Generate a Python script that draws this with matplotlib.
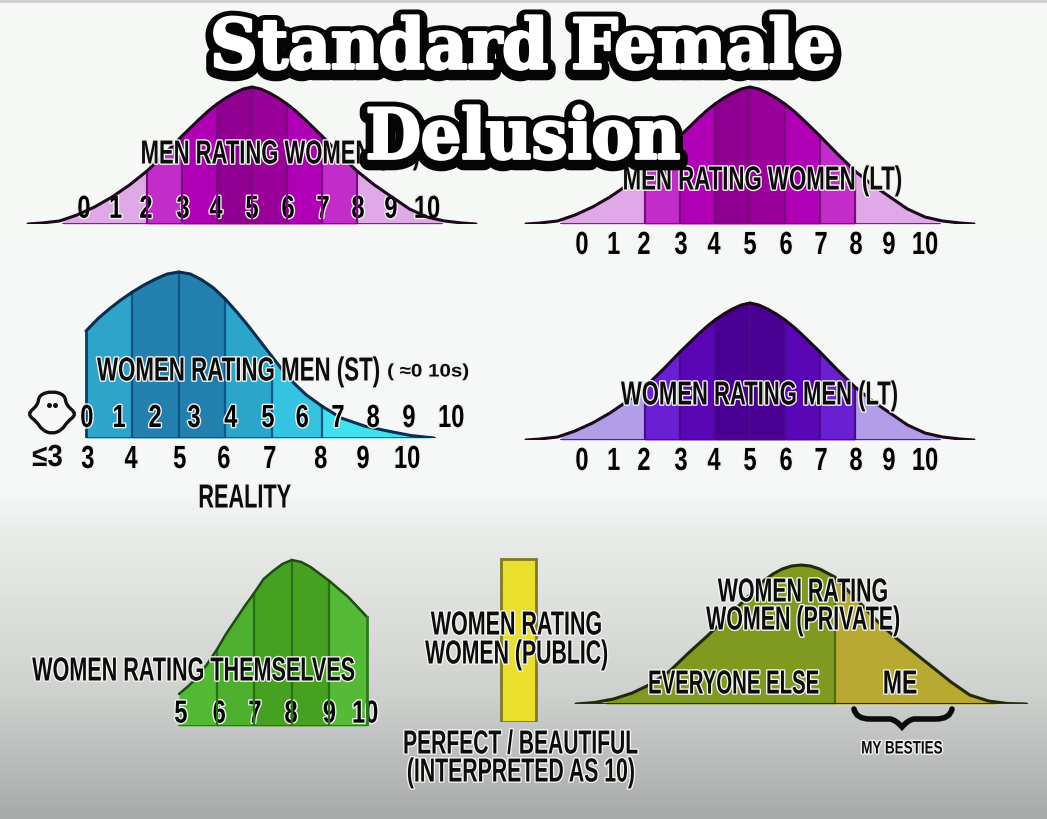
import numpy as np
import matplotlib
matplotlib.use("Agg")
import matplotlib.pyplot as plt
import matplotlib.patheffects as pe
from matplotlib.patches import PathPatch
from matplotlib.path import Path
from matplotlib.transforms import Affine2D
from matplotlib.colors import LinearSegmentedColormap

W, H = 1047, 820
FONT = ["Liberation Sans", "DejaVu Sans"]
plt.rcParams["font.family"] = FONT
plt.rcParams["font.weight"] = "bold"

# shared bell curve
bell_x = [-1.4, -1, -0.5, 0, 0.5, 1, 1.5, 2, 2.5, 3, 3.5, 3.75, 4, 4.25, 4.5, 4.75, 5, 5.25, 5.5, 5.75, 6, 6.25, 6.5, 7, 7.5, 8, 8.5, 9, 9.5, 10, 10.5, 11, 11.4]
bell_y = [0, 1, 3, 9, 17, 27, 39, 53, 70, 88, 105, 113, 120, 126, 131, 135, 137, 135, 131, 126, 120, 113, 105, 88, 70, 53, 39, 27, 15, 7, 3, 1, 0]
bell_edges = [-0.4, 2, 3, 4, 5, 6, 7, 8, 10.4]
bell_labels = ["0", "1", "2", "3", "4", "5", "6", "7", "8", "9", "10"]
bell_label_x = [0.2, 1.1, 1.97, 3.03, 3.97, 5, 6.03, 7.03, 8.03, 8.97, 10]
magenta = ["#dfa8e6", "#c22cc8", "#b000b6", "#8f0090", "#9a009a", "#b000b6", "#c22cc8", "#dfa8e6"]
violet = ["#b29de8", "#6a20d2", "#5a06b6", "#4a0092", "#4a0092", "#5a06b6", "#6a20d2", "#b29de8"]

# women rating men (ST)
st_x = [3, 3.25, 3.5, 3.75, 4, 4.25, 4.5, 4.75, 5, 5.25, 5.5, 5.75, 6, 6.25, 6.5, 6.75, 7, 7.25, 7.5, 7.75, 8.08, 8.5, 9, 9.5, 10, 10.5]
st_y = [107, 119, 129, 138, 146, 153, 159, 164, 166, 164, 158, 150, 139, 126, 112, 97, 82, 67, 54, 43, 32, 20, 12, 7, 2.5, 0]
st_edges = [3, 4, 5, 6, 7, 8.08, 10.5]
st_colors = ["#2ea4ca", "#2480ae", "#2380ae", "#2ca5cb", "#34c3e0", "#40e0ee"]
reality_x = [3.04, 3.97, 5.02, 5.97, 6.96, 8.06, 8.97, 9.92]
reality_labels = ["3", "4", "5", "6", "7", "8", "9", "10"]
perceived_x = [3.02, 3.71, 4.49, 5.33, 6.12, 6.92, 7.66, 8.43, 9.19, 9.96, 10.87]

# women rating themselves
self_x = [5, 5.25, 5.5, 5.75, 6, 6.25, 6.5, 6.75, 7, 7.25, 7.5, 7.75, 8, 8.25, 8.5, 8.75, 9, 9.25, 9.5, 9.75, 10]
self_y = [32, 40, 49, 62, 76, 92, 106, 120, 133, 147, 155, 162, 166, 164, 159, 152, 145, 137, 129, 119, 109]
self_edges = [5, 6, 7, 8, 9, 10]
self_colors = ["#52b934", "#4cb02e", "#46a120", "#46a120", "#55ba36"]
self_labels = ["5", "6", "7", "8", "9", "10"]
self_label_x = [5.05, 6.07, 7.02, 7.98, 9.0, 9.95]

# women rating women (public)
public_rating = [10]
public_height = [1]

# women rating women (private)
priv_x = [-6, -5.5, -5, -4.5, -4, -3.5, -3, -2.5, -2, -1.5, -1, -0.75, -0.5, -0.25, 0, 0.25, 0.5, 0.9, 1.5, 2, 2.5, 3, 3.5, 4, 4.5, 5, 5.5, 6]
priv_y = [0, 1.5, 5, 11, 20, 33, 51, 68, 86, 104, 123, 130, 135, 138, 139, 138, 135, 127, 104, 84, 67, 52, 37, 22, 9, 3, 0.5, 0]
priv_edges = [-5.2, 0.9, 5.2]
priv_colors = ["#7f9a1e", "#b8a932"]


class Squeeze(pe.AbstractPathEffect):
    # narrow the glyphs about their centre, no condensed font is installed
    def __init__(self, sx=None, width=None, halo=2.0, halo_color="#f0f2ee", offset=(0, 0), thick=0):
        super().__init__()
        self.sx, self.width, self.halo = sx, width, halo
        self.halo_color, self.off, self.thick = halo_color, offset, thick

    def draw_path(self, renderer, gc, tpath, affine, rgbFace=None):
        box = tpath.get_extents(affine)
        sx = self.sx if self.sx else self.width / box.width
        cx = (box.x0 + box.x1) / 2
        aff = affine + Affine2D().translate(-cx, 0).scale(sx, 1).translate(cx, 0)
        pe.Stroke(linewidth=self.halo, foreground=self.halo_color, offset=self.off).draw_path(renderer, gc, tpath, aff, rgbFace)
        if self.thick:
            pe.Stroke(linewidth=self.thick, foreground=rgbFace).draw_path(renderer, gc, tpath, aff, rgbFace)
        renderer.draw_path(gc, tpath, aff, rgbFace)


digits = [Squeeze(sx=0.74)]


def panel(left, right, top, bottom, x0, px0, step, per_y):
    # axes box in pixels, data scale chosen so rating x0 lands on pixel px0
    ax = fig.add_axes([left / W, 1 - bottom / H, (right - left) / W, (bottom - top) / H])
    ax.set_xlim(x0 + (left - px0) / step, x0 + (right - px0) / step)
    ax.set_ylim(0, (bottom - top) / per_y)
    ax.patch.set_alpha(0)
    for s in ax.spines.values():
        s.set_visible(False)
    ax.set_yticks([])
    ax.tick_params(axis="x", length=0, labelsize=23)
    return ax


def curve(ax, x, y, edges, colors, sep, line="#1c0a1c", lw=2.2):
    x = np.array(x, dtype=float)
    y = np.array(y, dtype=float)
    for i in range(len(colors)):
        m = (x >= edges[i] - 1e-9) & (x <= edges[i + 1] + 1e-9)
        xs = np.interp(edges[i:i + 2], x, y)
        bx = np.r_[edges[i], x[m], edges[i + 1]]
        by = np.r_[xs[0], y[m], xs[1]]
        ax.fill_between(bx, 0, by, color=colors[i], lw=0, zorder=1)
    for e in edges[1:-1]:
        ax.plot([e, e], [0, np.interp(e, x, y)], color=sep, lw=1.6, zorder=2)
    ax.plot(x, y, color=line, lw=lw, zorder=3, solid_capstyle="round")
    ax.plot([edges[0], edges[-1]], [0, 0], color=sep, lw=2, zorder=2)


def ticks(ax, pos, labels, pad):
    ax.set_xticks(pos, labels)
    ax.tick_params(axis="x", pad=pad)
    for t in ax.get_xticklabels():
        t.set_path_effects(digits)
        t.set_zorder(6)


fig = plt.figure(figsize=(W / 100, H / 100), dpi=100)

# background fade
bg = fig.add_axes([0, 0, 1, 1], zorder=-5)
cmap = LinearSegmentedColormap.from_list("fade", [(0, "#cfd0cf"), (0.004, "#f7f9f7"), (0.60, "#f5f8f6"), (0.66, "#e9ebe9"),
                                                  (0.85, "#cfd1cf"), (1, "#a9abaa")])
bg.imshow(np.linspace(0, 1, 820)[:, None], cmap=cmap, aspect="auto", vmin=0, vmax=1)
bg.axis("off")

# men rating women (ST)
ax1 = panel(20, 485, 80, 225, 5, 252, 35, 1)
curve(ax1, bell_x, bell_y, bell_edges, magenta, "#7c0a80")
ticks(ax1, bell_label_x, bell_labels, -21)

# men rating women (LT)
ax2 = panel(518, 983, 80, 225, 5, 750, 35, 1)
curve(ax2, bell_x, bell_y, bell_edges, magenta, "#7c0a80")
ticks(ax2, bell_label_x, bell_labels, 5)

# women rating men (ST)
ax3 = panel(70, 470, 265, 439, 3, 86, 46.4, 1)
curve(ax3, st_x, st_y, st_edges, st_colors, "#0e5486", line="#0b2c4c")
ax3.plot([3, 3], [0, st_y[0]], color="#0b3c66", lw=2, zorder=3)
ticks(ax3, reality_x, reality_labels, 5)
for px, lab in zip(perceived_x, bell_labels):
    ax3.text(px, 19, lab, ha="center", va="center", fontsize=23, zorder=6, path_effects=digits)

# women rating men (LT)
ax4 = panel(518, 983, 295, 441, 5, 750, 35, 1)
curve(ax4, bell_x, bell_y, bell_edges, violet, "#4a0a90")
ticks(ax4, bell_label_x, bell_labels, 5)

# women rating themselves
ax5 = panel(170, 385, 552, 727, 5, 179, 37.6, 1)
curve(ax5, self_x, self_y, self_edges, self_colors, "#26701a", line="#1e4a14", lw=1.8)
ax5.plot([10, 10], [0, self_y[-1]], color="#2c7a1e", lw=2, zorder=3)
ticks(ax5, self_label_x, self_labels, -19)

# women rating women (public)
ax6 = panel(495, 542, 555, 723, 10, 518.5, 35, 163)
ax6.bar(public_rating, public_height, width=1, color="#ebdf2e", edgecolor="#7d7a22", lw=2)
ax6.set_xticks([])

# women rating women (private)
ax7 = panel(570, 1030, 560, 705, 0, 801, 37.5, 1)
curve(ax7, priv_x, priv_y, priv_edges, priv_colors, "#4f6b14", line="#22280c")
ax7.plot([-6, 6], [0, 0], color="#2c3010", lw=2.2, zorder=3)
ax7.set_xticks([])

# overlay in pixel coordinates for the captions
ov = fig.add_axes([0, 0, 1, 1], zorder=10)
ov.set_xlim(0, W)
ov.set_ylim(H, 0)
ov.axis("off")


def cap(x0, x1, y, s, size=24):
    ov.text((x0 + x1) / 2, y + 4, s, ha="center", va="center", fontsize=size, color="#0c0c0c",
            path_effects=[Squeeze(width=x1 - x0)], zorder=5)


cap(142, 419, 152, "MEN RATING WOMEN (ST)")
cap(624, 901, 178, "MEN RATING WOMEN (LT)")
cap(98, 380, 369, "WOMEN RATING MEN (ST)")
cap(388, 468, 369, "( ≈0 10s)", size=13)
cap(622, 898, 393, "WOMEN RATING MEN (LT)")
cap(199, 290, 496, "REALITY")
cap(33, 355, 669, "WOMEN RATING THEMSELVES")
cap(432, 602, 623, "WOMEN RATING")
cap(426, 608, 652, "WOMEN (PUBLIC)")
cap(404, 637, 742, "PERFECT / BEAUTIFUL")
cap(408, 634, 770, "(INTERPRETED AS 10)")
cap(719, 888, 590, "WOMEN RATING")
cap(707, 900, 618, "WOMEN (PRIVATE)")
cap(649, 818, 682, "EVERYONE ELSE")
cap(884, 916, 682, "ME")
cap(862, 942, 746, "MY BESTIES", size=13)
cap(33, 62, 455, "≤3", size=22)

# ghost, rounded through the midpoints of its outline
ghost = np.array([(52, 392), (65, 396), (66, 406), (77, 415), (67, 423), (62, 431), (52, 435), (42, 431),
                  (37, 423), (27, 415), (38, 406), (39, 396)], dtype=float)
mids = (ghost + np.roll(ghost, -1, axis=0)) / 2
v = [mids[-1]]
c = [Path.MOVETO]
for i in range(len(ghost)):
    v += [ghost[i], mids[i]]
    c += [Path.CURVE3, Path.CURVE3]
ov.add_patch(PathPatch(Path(v, c), fc="none", ec="#111111", lw=2.4))
ov.plot([49, 55], [406, 406], "o", color="#111111", ms=2.6)

# brace under ME
v = [(854, 710), (856, 720), (870, 720), (890, 720), (896, 721), (902, 728), (908, 721), (914, 720), (936, 720), (950, 720), (952, 710)]
c = [Path.MOVETO, Path.CURVE3, Path.CURVE3, Path.LINETO, Path.CURVE3, Path.CURVE3, Path.CURVE3, Path.CURVE3, Path.LINETO, Path.CURVE3, Path.CURVE3]
ov.add_patch(PathPatch(Path(v, c), fc="none", ec="#0c0c0c", lw=4, capstyle="round"))

# title sits on top and hides part of the first caption
for y, s, w in [(50, "Standard Female", 618), (140, "Delusion", 310)]:
    ov.text(523, y, s, ha="center", va="center", fontsize=50, color="white", family="DejaVu Serif", weight="bold",
            path_effects=[Squeeze(width=w, halo=13, halo_color="#050505", offset=(0, -2), thick=2)], zorder=20)

fig.savefig("out.png", dpi=100)
